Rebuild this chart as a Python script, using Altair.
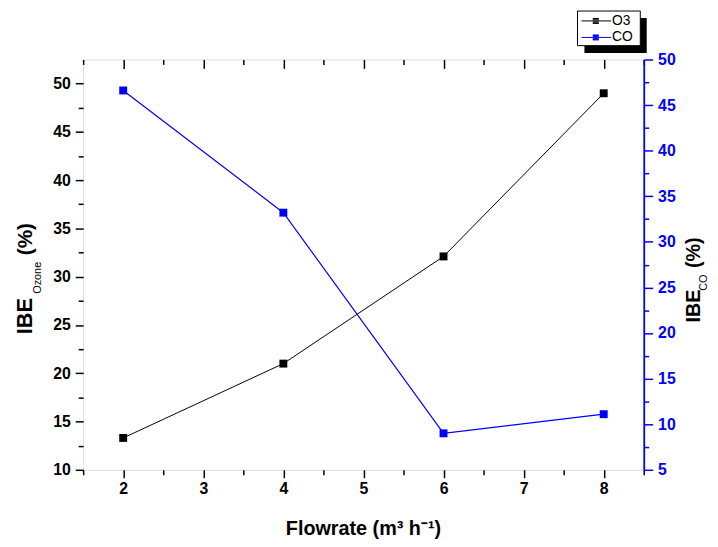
import altair as alt
import pandas as pd

# ---- data ----
flowrate = [2, 4, 6, 8]
ibe_ozone = [13.3, 21.0, 32.1, 49.0]
ibe_co = [46.6, 33.2, 9.0, 11.1]
series_names = ["O3", "CO"]
series_colors = ["#000000", "#0000FF"]

x_major = [2, 3, 4, 5, 6, 7, 8]
x_minor = [1.5, 2.5, 3.5, 4.5, 5.5, 6.5, 7.5, 8.5]
left_major = [10, 15, 20, 25, 30, 35, 40, 45, 50]
left_minor = [12.5, 17.5, 22.5, 27.5, 32.5, 37.5, 42.5, 47.5]
right_major = [5, 10, 15, 20, 25, 30, 35, 40, 45, 50]
right_minor = [7.5, 12.5, 17.5, 22.5, 27.5, 32.5, 37.5, 42.5, 47.5]

left_title = ["IBE", "Ozone", "(%)"]
right_title = ["IBE", "CO", "(%)"]
x_title = "Flowrate (m\u00b3 h\u207b\u00b9)"

W, H = 567, 415
FONT = "Liberation Sans"
BLUE = "#0000FF"

o3 = pd.DataFrame({"Flowrate": flowrate, "IBE": ibe_ozone, "series": series_names[0]})
co = pd.DataFrame({"Flowrate": flowrate, "IBE": ibe_co, "series": series_names[1]})

x_scale = alt.Scale(domain=[1.5, 8.5], nice=False, zero=False)
y_left_scale = alt.Scale(domain=[10, 52.5], nice=False, zero=False)
y_right_scale = alt.Scale(domain=[5, 50], nice=False, zero=False)
color_scale = alt.Scale(domain=series_names, range=series_colors)

lab = dict(labelFont=FONT, labelFontSize=16, labelFontWeight="bold", labelFlush=False, labelOverlap=False)
base = dict(grid=False, title=None, tickWidth=1.5)

x_bottom = alt.Axis(orient="bottom", values=x_major, format="d", tickColor="black", labelColor="black",
                    tickSize=8, labelPadding=3, domain=False, **lab, **base)
x_bottom_minor = alt.Axis(orient="bottom", values=x_minor, labels=False, tickColor="black", tickSize=5,
                          domain=False, **base)
x_top = alt.Axis(orient="top", values=x_major, labels=False, tickColor="black", tickSize=9, offset=-9,
                 domain=False, **base)
x_top_minor = alt.Axis(orient="top", values=x_minor, labels=False, tickColor="black", tickSize=5, offset=-5,
                       domain=False, **base)

y_left = alt.Axis(orient="left", values=left_major, format="d", tickColor="black", labelColor="black",
                  tickSize=8, labelPadding=5, domain=False, **lab, **base)
y_left_minor = alt.Axis(orient="left", values=left_minor, labels=False, tickColor="black", tickSize=5,
                        domain=False, **base)
y_right = alt.Axis(orient="right", values=right_major, format="d", tickColor=BLUE, labelColor=BLUE,
                   tickSize=9, labelPadding=5, domain=True, domainColor=BLUE, domainWidth=1.8, **lab, **base)
y_right_minor = alt.Axis(orient="right", values=right_minor, labels=False, tickColor=BLUE, tickSize=5,
                         domain=False, **base)

SYMBOL = ("M-1,0H9"
          "M2.83,-0.833H4.83M2.83,-0.667H4.83M2.83,-0.333H4.83"
          "M2.83,0.333H4.83M2.83,0.667H4.83M2.83,0.833H4.83")

legend = alt.Legend(title=None, orient="none", legendX=496, legendY=-50,
                    symbolType=SYMBOL, symbolSize=36, symbolStrokeWidth=1, symbolOpacity=1,
                    labelOffset=21, padding=4, rowPadding=2.7,
                    labelFont=FONT, labelFontSize=14, labelColor="black")

def enc(xaxis, yscale, yaxis):
    return dict(x=alt.X("Flowrate:Q", scale=x_scale, axis=xaxis),
                y=alt.Y("IBE:Q", scale=yscale, axis=yaxis))

o3_line = alt.Chart(o3).mark_line(strokeWidth=1).encode(
    color=alt.Color("series:N", scale=color_scale, legend=legend), **enc(x_bottom, y_left_scale, y_left))
o3_pts = alt.Chart(o3).mark_point(shape="square", filled=True, size=64, opacity=1, color="#000000").encode(
    **enc(x_bottom, y_left_scale, y_left))
co_line = alt.Chart(co).mark_line(strokeWidth=1.2).encode(
    color=alt.Color("series:N", scale=color_scale, legend=legend), **enc(x_top, y_right_scale, y_right))
co_pts = alt.Chart(co).mark_point(shape="square", filled=True, size=64, opacity=1, color=BLUE).encode(
    **enc(x_top, y_right_scale, y_right))

# invisible layers that only carry the minor-tick axes
o3_minor = alt.Chart(o3).mark_point(opacity=0).encode(**enc(x_bottom_minor, y_left_scale, y_left_minor))
co_minor = alt.Chart(co).mark_point(opacity=0).encode(**enc(x_top_minor, y_right_scale, y_right_minor))

left = alt.layer(o3_line, o3_pts)
right = alt.layer(co_line, co_pts)

# legend frame with drop shadow (legend entries are drawn on top of it)
frame_df = pd.DataFrame({"s": [0]})
shadow = alt.Chart(frame_df).mark_rect(fill="black", opacity=1).encode(
    x=alt.value(507), x2=alt.value(570), y=alt.value(-42), y2=alt.value(-6.5))
frame = alt.Chart(frame_df).mark_rect(fill="white", stroke="black", strokeWidth=1, opacity=1).encode(
    x=alt.value(500), x2=alt.value(563.5), y=alt.value(-49), y2=alt.value(-14))

def piece(text, x, y, size, weight="bold", angle=270, align="left"):
    return alt.Chart(pd.DataFrame({"t": [text]})).mark_text(
        font=FONT, fontSize=size, fontWeight=weight, angle=angle, align=align,
        baseline="alphabetic", color="black"
    ).encode(text="t:N", x=alt.value(x), y=alt.value(y))

titles = [
    piece(left_title[0], -52, 278, 22),
    piece(left_title[1], -43, 237, 11, weight="normal"),
    piece(left_title[2], -52, 198, 21),
    piece(right_title[0], 624, 266, 20),
    piece(right_title[1], 631, 234, 11, weight="normal"),
    piece(right_title[2], 624, 211, 20),
    piece(x_title, W / 2, 481, 20, angle=0, align="center"),
]

chart = alt.layer(left, right, o3_minor, co_minor, shadow, frame, *titles).resolve_scale(
    y="independent"
).resolve_axis(x="independent", y="independent").properties(
    width=W, height=H,
    padding={"left": 76, "top": 49, "right": 67, "bottom": 75},
    autosize=alt.AutoSizeParams(type="none"),
).configure_view(stroke="black", strokeWidth=1.5).configure(background="white")

chart.save("out.html", embed_options={"renderer": "svg", "actions": False})
